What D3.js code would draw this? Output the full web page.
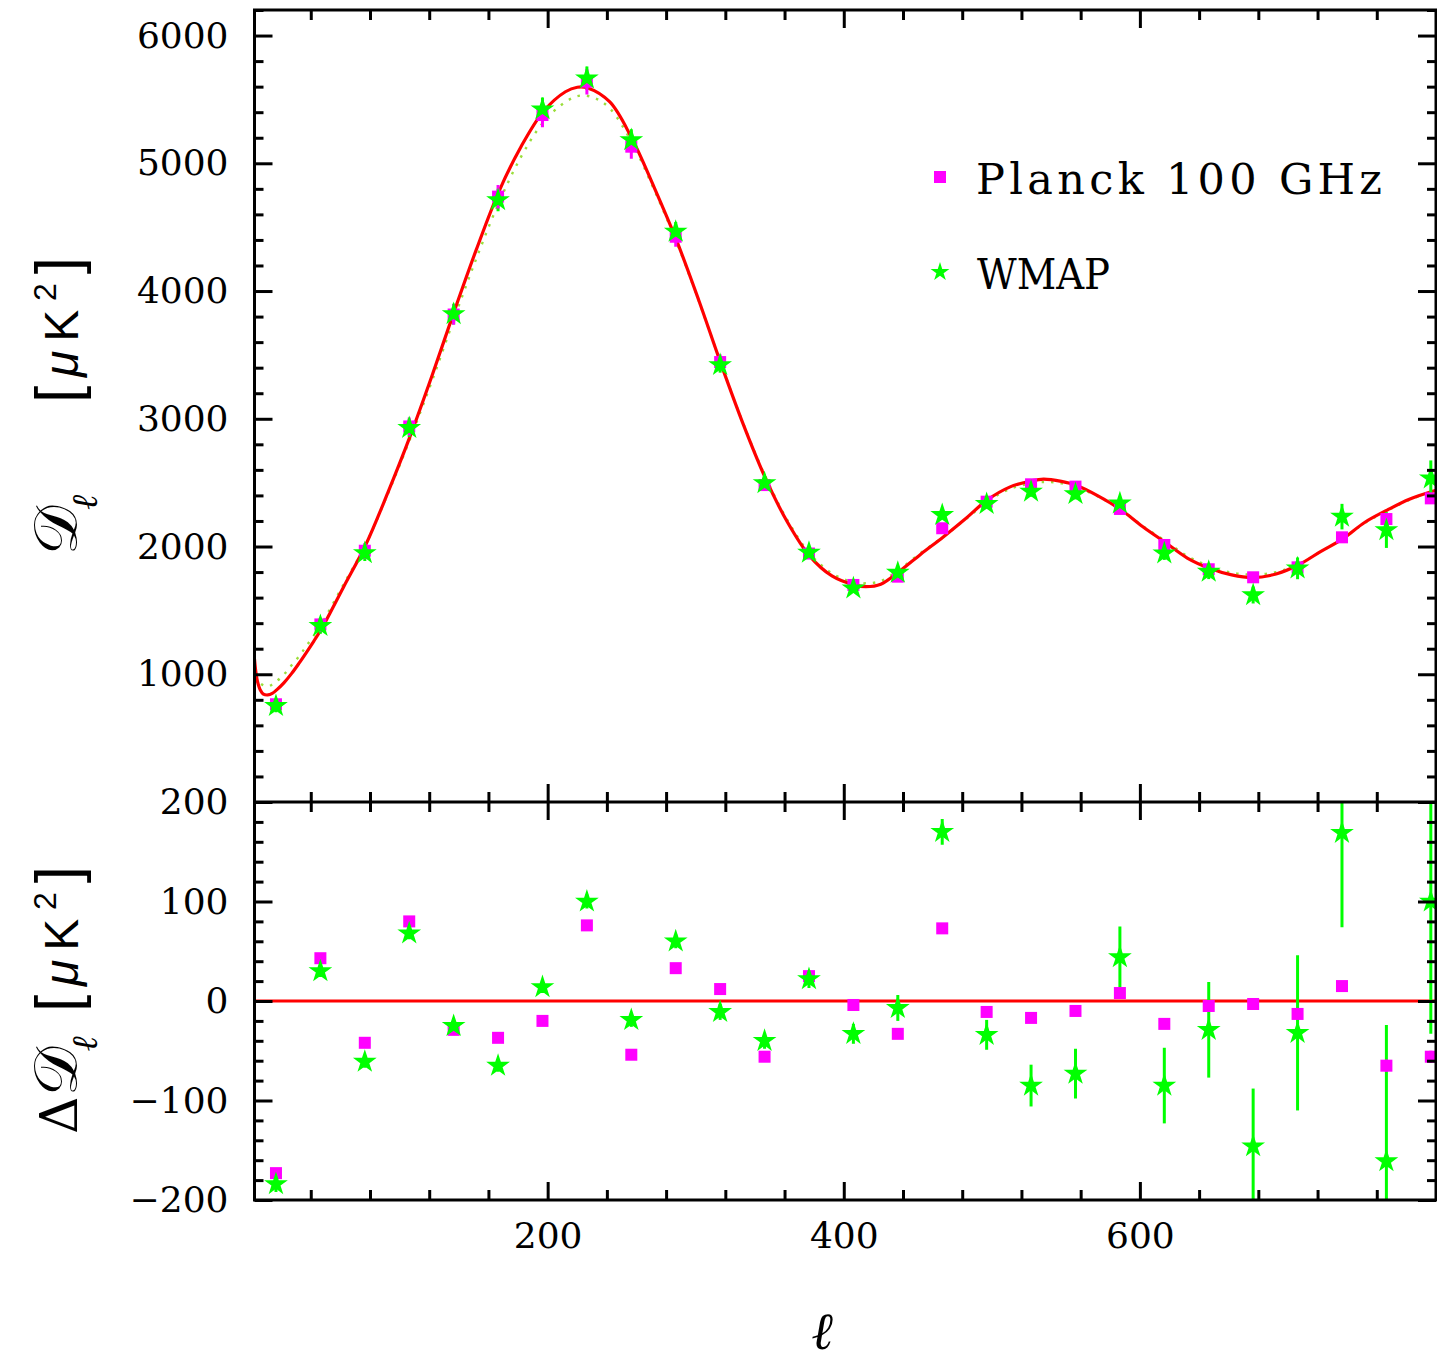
<!DOCTYPE html>
<html><head><meta charset="utf-8">
<script src="https://cdn.jsdelivr.net/npm/d3@7/dist/d3.min.js"></script>
<style>html,body{margin:0;padding:0;background:#fff;}svg{display:block;background:#fff;}</style>
</head><body>
<svg id="chart" width="1437" height="1365"></svg>
<script>
// ---------------- data ----------------
const binL = [16.5,46.5,76.5,106.5,136.5,166.5,196.5,226.5,256.5,286.5,316.5,346.5,376.5,406.5,436.5,466.5,496.5,526.5,556.5,586.5,616.5,646.5,676.5,706.5,736.5,766.5,796.5];

const planckD   = [765,1390,1967,2940,3816,4739,5378,5639,5130,4425,3444,2481,1945,1699,1764,2143,2351,2487,2469,2294,2012,1822,1759,1837,2072,2215,2377];
const planckErr = [45,55,60,70,80,92,95,100,95,78,60,45,35,28,26,28,30,31,30,28,26,24,23,23,24,26,28];
const wmapD     = [752,1378,1949,2928,3820,4712,5423,5665,5182,4465,3421,2497,1952,1673,1795,2247,2333,2430,2411,2338,1947,1803,1620,1829,2234,2129,2534];
const wmapErr   = [50,60,62,70,80,88,92,92,85,75,60,45,35,30,30,33,36,40,42,48,52,58,66,85,100,140,140];

const planckRes    = [-173,43,-42,80,-29,-37,-20,76,-54,33,12,-56,25,-4,-33,73,-11,-17,-10,8,-23,-5,-3,-13,15,-65,-56];
const planckResErr = [4,3,3,3,3,3,3,3,3,3,3,3,3,3,3,3,3,3,4,4,4,4,4,5,5,6,6];
const wmapRes      = [-184,30,-61,68,-25,-65,14,100,-19,60,-11,-40,22,-33,-7,170,-34,-85,-73,44,-85,-29,-146,-32,169,-161,100];
const wmapResErr   = [8,6,6,6,6,6,6,7,7,7,8,8,9,10,13,13,15,21,25,31,38,48,58,78,95,137,133];

// best-fit model (red, solid)
const modelL = [2,3,4,6,8,11,14,17,22,27,32,37,42,47,62,77,92,107,122,137,152,167,182,197,212,220,227,242,257,272,287,302,317,332,347,362,377,392,407,415,425,437,452,467,482,497,512,527,535,547,557,572,587,602,617,632,647,662,676,692,707,722,737,752,767,782,797,800];
const modelD = [1119,1010,945,875,845,838,850,878,935,1005,1085,1170,1258,1350,1680,2010,2420,2860,3340,3845,4330,4777,5130,5404,5560,5595,5590,5480,5192,4810,4398,3930,3432,2960,2537,2190,1925,1770,1700,1686,1705,1800,1940,2073,2215,2365,2465,2515,2528,2510,2480,2395,2290,2155,2033,1910,1830,1778,1757,1785,1855,1960,2060,2190,2285,2370,2430,2440];

// WMAP best-fit model (dotted)
const wmapModelL = [2,4,7,11,14,17,22,27,32,37,47,62,77,92,107,122,137,152,167,182,197,212,222,232,242,257,272,287,302,317,332,347,362,377,392,407,415,425,437,452,467,482,497,512,527,537,547,557,572,587,602,617,632,647,662,677,692,707,722,737,752,767,782,797,800];
const wmapModelD = [1060,960,920,905,920,945,1000,1070,1140,1220,1390,1700,2015,2410,2840,3300,3790,4260,4690,5050,5320,5480,5530,5510,5430,5160,4790,4385,3925,3435,2965,2550,2205,1945,1790,1720,1712,1730,1815,1950,2075,2210,2350,2450,2495,2505,2495,2465,2390,2290,2160,2045,1925,1845,1795,1780,1800,1860,1960,2060,2185,2280,2365,2425,2435];

// axes / ticks
const lDomain = [2, 800];
const topDomain = [0, 6200];
const botDomain = [-200, 200];
const xMajor = [200,400,600];
const xMinor = [40,80,120,160,240,280,320,360,440,480,520,560,640,680,720,760];
const topMajor = [1000,2000,3000,4000,5000,6000];
const topMinor = [200,400,600,800,1200,1400,1600,1800,2200,2400,2600,2800,3200,3400,3600,3800,4200,4400,4600,4800,5200,5400,5600,5800,6200];
const botMajor = [-200,-100,0,100,200];
const botMinor = [-180,-160,-140,-120,-80,-60,-40,-20,20,40,60,80,120,140,160,180];
const legendLabels = ["Planck 100 GHz", "WMAP"];

// ---------------- drawing ----------------
const svg = d3.select("#chart");
const X0 = 254.5, X1 = 1436, TOP0 = 10, MID = 802, BOT1 = 1200;
const x  = d3.scaleLinear().domain(lDomain).range([X0, X1]);
const yT = d3.scaleLinear().domain(topDomain).range([MID, TOP0]);
const yB = d3.scaleLinear().domain(botDomain).range([BOT1, MID]);

const MAG = "#ff00ff", GRN = "#00ff00", RED = "#ff0000", DOT = "#9bde3c";
const TICKFONT = "'DejaVu Serif', serif";

const defs = svg.append("defs");
defs.append("clipPath").attr("id","clipT").append("rect")
  .attr("x",X0).attr("y",TOP0).attr("width",X1-X0).attr("height",MID-TOP0);
defs.append("clipPath").attr("id","clipB").append("rect")
  .attr("x",X0).attr("y",MID).attr("width",X1-X0).attr("height",BOT1-MID);

const starSym = d3.symbol().type(d3.symbolStar).size(175);

// --- top panel curves ---
const gT = svg.append("g").attr("clip-path","url(#clipT)");
const mkLine = (Ls) => d3.line().x((d,i)=>x(Ls[i])).y(d=>yT(d)).curve(d3.curveCatmullRom.alpha(0.5));
gT.append("path").attr("d", mkLine(wmapModelL)(wmapModelD))
  .attr("fill","none").attr("stroke",DOT).attr("stroke-width",2.4).attr("stroke-dasharray","2.5 7");
gT.append("path").attr("d", mkLine(modelL)(modelD))
  .attr("fill","none").attr("stroke",RED).attr("stroke-width",3.2);

// --- bottom panel zero line ---
const gB = svg.append("g").attr("clip-path","url(#clipB)");
gB.append("line").attr("x1",x(lDomain[0])).attr("x2",x(lDomain[1]))
  .attr("y1",yB(0)).attr("y2",yB(0)).attr("stroke",RED).attr("stroke-width",3.2);

function drawPoints(g, yS, pD, pE, wD, wE) {
  g.append("g").selectAll("line").data(binL).join("line")
    .attr("x1",d=>x(d)).attr("x2",d=>x(d))
    .attr("y1",(d,i)=>yS(wD[i]-wE[i])).attr("y2",(d,i)=>yS(wD[i]+wE[i]))
    .attr("stroke",GRN).attr("stroke-width",3);
  g.append("g").selectAll("line").data(binL).join("line")
    .attr("x1",d=>x(d)).attr("x2",d=>x(d))
    .attr("y1",(d,i)=>yS(pD[i]-pE[i])).attr("y2",(d,i)=>yS(pD[i]+pE[i]))
    .attr("stroke",MAG).attr("stroke-width",3);
  g.append("g").selectAll("rect").data(binL).join("rect")
    .attr("x",d=>x(d)-6).attr("y",(d,i)=>yS(pD[i])-6)
    .attr("width",12).attr("height",12).attr("fill",MAG);
  g.append("g").selectAll("path").data(binL).join("path")
    .attr("d",starSym).attr("fill",GRN)
    .attr("transform",(d,i)=>`translate(${x(d)},${yS(wD[i])})`);
}
drawPoints(gT, yT, planckD, planckErr, wmapD, wmapErr);
drawPoints(gB, yB, planckRes, planckResErr, wmapRes, wmapResErr);

// --- axes ---
function styleAxis(g) {
  g.select(".domain").remove();
  g.selectAll("line").attr("stroke","#000").attr("stroke-width",3);
  g.attr("font-family",TICKFONT).attr("font-size",36);
  g.selectAll("text").attr("fill","#000");
}
function vAxis(yS, major, minor, labels, top, bottom) {
  svg.append("g").attr("transform",`translate(${X0},0)`)
    .call(d3.axisLeft(yS).tickValues(minor).tickSize(-9).tickSizeOuter(0).tickFormat("")).call(styleAxis);
  svg.append("g").attr("transform",`translate(${X0},0)`)
    .call(d3.axisLeft(yS).tickValues(major).tickSize(-18).tickSizeOuter(0).tickPadding(26)
      .tickFormat(d => labels.includes(d) ? d3.format("d")(d) : "")).call(styleAxis);
  svg.append("g").attr("transform",`translate(${X1},0)`)
    .call(d3.axisRight(yS).tickValues(minor).tickSize(-9).tickSizeOuter(0).tickFormat("")).call(styleAxis);
  svg.append("g").attr("transform",`translate(${X1},0)`)
    .call(d3.axisRight(yS).tickValues(major).tickSize(-18).tickSizeOuter(0).tickFormat("")).call(styleAxis);
  svg.append("g").attr("transform",`translate(0,${top})`)
    .call(d3.axisTop(x).tickValues(xMinor).tickSize(-10).tickSizeOuter(0).tickFormat("")).call(styleAxis);
  svg.append("g").attr("transform",`translate(0,${top})`)
    .call(d3.axisTop(x).tickValues(xMajor).tickSize(-18).tickSizeOuter(0).tickFormat("")).call(styleAxis);
  svg.append("g").attr("transform",`translate(0,${bottom})`)
    .call(d3.axisBottom(x).tickValues(xMinor).tickSize(-10).tickSizeOuter(0).tickFormat("")).call(styleAxis);
}
vAxis(yT, topMajor, topMinor, topMajor, TOP0, MID);
vAxis(yB, botMajor, botMinor, botMajor, MID, BOT1);
svg.append("g").attr("transform",`translate(0,${MID})`)
  .call(d3.axisBottom(x).tickValues(xMajor).tickSize(-18).tickSizeOuter(0).tickFormat("")).call(styleAxis);
svg.append("g").attr("transform",`translate(0,${BOT1})`)
  .call(d3.axisBottom(x).tickValues(xMajor).tickSize(-18).tickSizeOuter(0).tickPadding(22).tickFormat(d3.format("d"))).call(styleAxis);

// frame
svg.append("rect").attr("x",X0).attr("y",TOP0).attr("width",X1-X0).attr("height",BOT1-TOP0)
  .attr("fill","none").attr("stroke","#000").attr("stroke-width",3);
svg.append("line").attr("x1",X0).attr("x2",X1).attr("y1",MID).attr("y2",MID)
  .attr("stroke","#000").attr("stroke-width",3);

// --- legend ---
svg.append("rect").attr("x",934).attr("y",171).attr("width",12).attr("height",12).attr("fill",MAG);
svg.append("path").attr("d",d3.symbol().type(d3.symbolStar).size(110)()).attr("fill",GRN)
  .attr("transform","translate(940,272)");
svg.append("text").attr("x",976).attr("y",194).attr("font-family",TICKFONT).attr("font-size",43)
  .attr("textLength",406).attr("lengthAdjust","spacing").text(legendLabels[0]);
svg.append("text").attr("x",977).attr("y",289).attr("font-family",TICKFONT).attr("font-size",43)
  .attr("textLength",133).attr("lengthAdjust","spacingAndGlyphs").text(legendLabels[1]);

// --- axis titles ---
svg.append("text").attr("x",822).attr("y",1349).attr("text-anchor","middle")
  .attr("font-family",TICKFONT).attr("font-style","italic").attr("font-size",52).text("ℓ");

function yTitle(startY, endY, withDelta) {
  const t = svg.append("text").attr("transform",`translate(77,${startY}) rotate(-90)`)
    .attr("font-family",TICKFONT).attr("font-size",62);
  if (withDelta) t.append("tspan").attr("font-size",52).text("Δ");
  t.append("tspan").text("𝒟");
  t.append("tspan").attr("font-size",36).attr("font-style","italic").attr("dx",-4).attr("dy",20).text("ℓ");
  const u = svg.append("text").attr("transform",`translate(78,${endY}) rotate(-90)`)
    .attr("text-anchor","end").attr("font-family","'Liberation Sans', sans-serif").attr("font-size",48)
    .attr("textLength",146).attr("lengthAdjust","spacing");
  u.append("tspan").attr("font-size",62).text("[");
  u.append("tspan").attr("font-style","italic").text("μ");
  u.append("tspan").text("K");
  u.append("tspan").attr("font-size",32).attr("dy",-22).text("2");
  u.append("tspan").attr("font-size",62).attr("dy",22).text("]");
}
yTitle(555, 257, false);
yTitle(1134, 866, true);
</script>
</body></html>
